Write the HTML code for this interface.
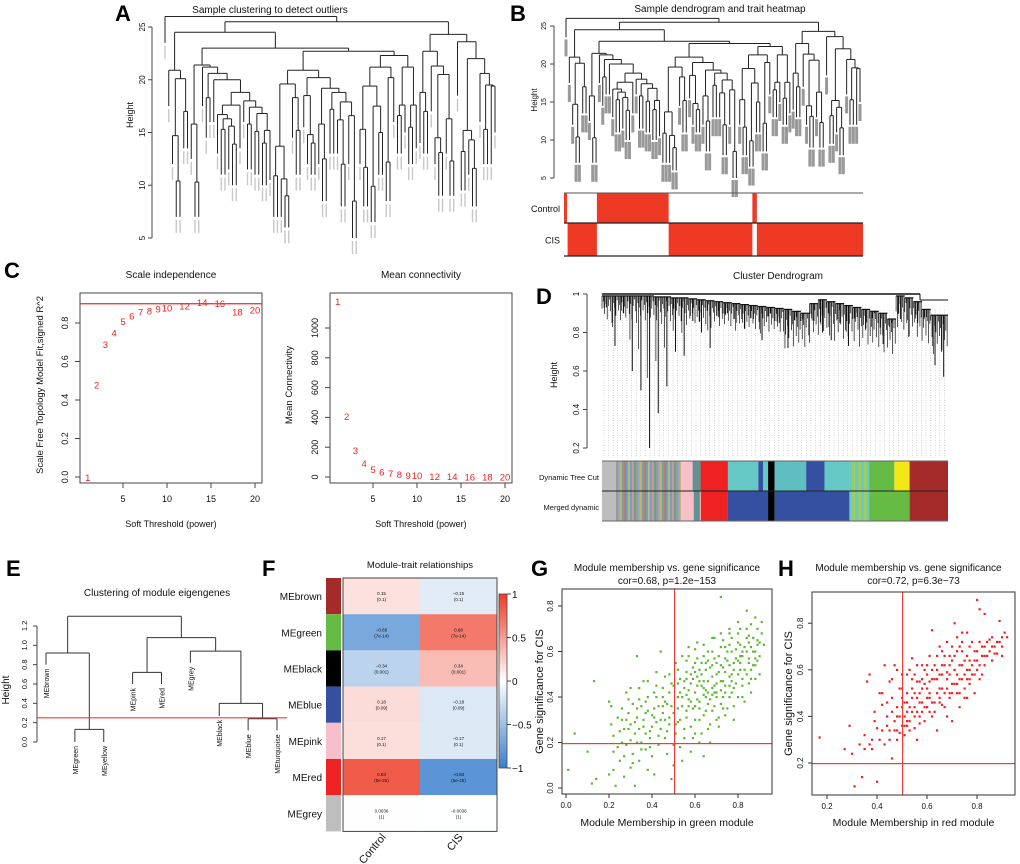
<!DOCTYPE html>
<html><head><meta charset="utf-8">
<style>
html,body{margin:0;padding:0;background:#fff;}
svg{display:block;font-family:"Liberation Sans",Arial,sans-serif;}
</style></head>
<body>
<svg id="fig" width="1020" height="864" viewBox="0 0 1020 864" xmlns="http://www.w3.org/2000/svg">
<rect width="1020" height="864" fill="#fff"/>
<g id="gA"></g>
<g id="gB"></g>
<g id="gC"></g>
<g id="gD"></g>
<g id="gE"></g>
<g id="gF"></g>
<g id="gG"></g>
<g id="gH"></g>
</svg>
<script>
// ---------- data ----------
const powers = [1,2,3,4,5,6,7,8,9,10,12,14,16,18,20];
const sftR2 = [0.0,0.48,0.69,0.75,0.81,0.84,0.86,0.865,0.875,0.88,0.89,0.91,0.905,0.86,0.87];
const meanK = [1180,409,181,94,55,38,27,20,15,12,8,6,5,4,3];
const r2Cut = 0.9;

const modules = ["MEbrown","MEgreen","MEblack","MEblue","MEpink","MEred","MEgrey"];
const moduleColors = ["#a52a2a","#66bb44","#000000","#3550a0","#f7bfcc","#ee2222","#bebebe"];
const traits = ["Control","CIS"];
const corControl = [0.15,-0.68,-0.34,0.18,0.17,0.83,0.0036];
const corCIS = [-0.15,0.68,0.34,-0.18,-0.17,-0.83,-0.0036];
const pText = ["(0.1)","(7e-14)","(0.001)","(0.09)","(0.1)","(5e-25)","(1)"];

const mmGreenA = [0.01,0.04,0.10,0.12,0.13,0.14,0.20,0.20,0.21,0.22,0.23,0.24,0.25,0.26,0.27,0.27,0.28,0.28,0.29,0.30,0.30,0.31,0.31,0.32,0.32,0.33,0.33,0.34,0.34,0.35,0.35,0.36,0.36,0.37,0.37,0.38,0.38,0.39,0.39,0.40,0.40,0.41,0.41,0.42,0.42,0.43,0.43,0.44,0.44,0.45,0.45,0.46,0.46,0.47,0.47,0.48,0.48,0.49,0.49,0.50,0.50,0.51,0.51,0.52,0.52,0.53,0.53,0.54,0.54,0.55,0.55,0.56,0.56,0.57,0.57,0.58,0.58,0.59,0.59,0.60,0.60,0.61,0.61,0.62,0.62,0.63,0.63,0.64,0.64,0.65,0.65,0.66,0.66,0.67,0.67,0.68,0.68,0.69,0.69,0.70,0.70,0.71,0.71,0.72,0.72,0.73,0.73,0.74,0.74,0.75,0.75,0.76,0.76,0.77,0.77,0.78,0.78,0.79,0.79,0.80,0.80,0.81,0.81,0.82,0.82,0.83,0.83,0.84,0.84,0.85,0.85,0.86,0.86,0.87,0.87,0.88,0.88,0.89,0.89,0.90,0.91,0.92,0.58,0.62,0.66,0.70,0.74,0.78,0.64,0.68,0.72,0.76,0.80,0.60,0.56,0.52,0.48,0.44,0.40,0.36,0.32,0.28,0.50,0.54,0.58,0.62,0.66,0.70,0.74,0.82,0.86,0.90,0.46,0.42,0.38,0.34,0.30,0.26,0.22];
const gsGreenA = [0.08,0.24,0.16,0.02,0.47,0.04,0.38,0.06,0.28,0.23,0.01,0.31,0.12,0.35,0.05,0.26,0.19,0.42,0.33,0.09,0.28,0.37,0.15,0.01,0.24,0.58,0.31,0.44,0.12,0.20,0.36,0.27,0.47,0.17,0.33,0.08,0.40,0.25,0.22,0.32,0.14,0.42,0.06,0.29,0.51,0.36,0.19,0.60,0.26,0.44,0.33,0.22,0.49,0.37,0.15,0.28,0.42,0.04,0.46,0.33,0.10,0.55,0.24,0.40,0.29,0.48,0.18,0.36,0.58,0.44,0.22,0.51,0.31,0.39,0.62,0.46,0.27,0.35,0.53,0.42,0.24,0.49,0.64,0.38,0.30,0.55,0.45,0.14,0.41,0.52,0.34,0.47,0.60,0.39,0.28,0.54,0.44,0.66,0.36,0.50,0.42,0.58,0.31,0.47,0.84,0.53,0.40,0.62,0.45,0.35,0.56,0.49,0.68,0.42,0.60,0.52,0.30,0.57,0.46,0.64,0.40,0.55,0.70,0.48,0.60,0.52,0.38,0.66,0.78,0.57,0.46,0.62,0.72,0.54,0.66,0.48,0.60,0.70,0.56,0.64,0.73,0.63,0.50,0.47,0.42,0.46,0.51,0.55,0.44,0.49,0.43,0.54,0.50,0.36,0.41,0.35,0.31,0.30,0.27,0.30,0.29,0.30,0.45,0.40,0.38,0.52,0.56,0.55,0.57,0.58,0.52,0.58,0.38,0.40,0.34,0.26,0.21,0.20,0.16];
const mmGreenB = [0.55,0.57,0.59,0.61,0.63,0.65,0.67,0.69,0.71,0.73,0.75,0.77,0.79,0.81,0.83,0.85,0.87,0.89,0.60,0.64,0.68,0.72,0.76,0.80,0.84,0.88,0.62,0.66,0.70,0.74,0.78,0.82,0.86,0.56,0.60,0.64,0.68,0.72,0.76,0.53,0.49,0.45,0.41,0.37,0.33,0.29,0.25,0.27,0.31,0.35,0.39,0.43,0.47,0.51,0.55,0.59,0.63,0.67,0.71,0.52,0.56,0.60,0.64,0.68,0.72,0.76,0.80,0.84,0.88,0.91,0.90,0.86,0.82,0.78,0.74,0.70,0.66,0.62,0.58,0.54,0.50,0.46,0.42,0.38,0.34,0.30,0.26,0.24,0.22,0.21,0.57,0.61,0.65,0.69,0.73,0.77,0.81,0.85,0.89,0.53,0.57,0.61,0.65,0.69,0.73,0.77,0.81,0.85,0.45,0.41,0.37,0.33,0.29,0.48,0.52,0.56,0.60,0.64,0.68,0.72,0.76,0.80,0.84,0.88];
const gsGreenB = [0.47,0.43,0.48,0.45,0.50,0.43,0.53,0.45,0.51,0.47,0.60,0.50,0.61,0.58,0.62,0.64,0.60,0.65,0.55,0.58,0.60,0.62,0.63,0.68,0.70,0.75,0.35,0.37,0.40,0.42,0.44,0.45,0.48,0.34,0.30,0.32,0.34,0.37,0.40,0.30,0.36,0.40,0.35,0.38,0.35,0.39,0.25,0.14,0.11,0.17,0.18,0.23,0.25,0.28,0.26,0.22,0.24,0.20,0.27,0.52,0.56,0.61,0.63,0.66,0.68,0.70,0.73,0.60,0.54,0.68,0.50,0.42,0.40,0.36,0.32,0.30,0.26,0.20,0.16,0.12,0.19,0.30,0.45,0.47,0.39,0.44,0.30,0.18,0.08,0.36,0.58,0.57,0.55,0.57,0.65,0.66,0.63,0.67,0.63,0.42,0.36,0.39,0.40,0.42,0.35,0.47,0.52,0.55,0.36,0.31,0.24,0.20,0.26,0.50,0.46,0.48,0.51,0.47,0.41,0.54,0.45,0.56,0.50,0.57];

const mmRedA = [0.17,0.27,0.29,0.30,0.31,0.33,0.34,0.35,0.36,0.37,0.38,0.39,0.40,0.40,0.41,0.42,0.43,0.43,0.44,0.45,0.45,0.46,0.46,0.47,0.47,0.48,0.48,0.49,0.49,0.50,0.50,0.51,0.51,0.52,0.52,0.53,0.53,0.54,0.54,0.55,0.55,0.56,0.56,0.57,0.57,0.58,0.58,0.59,0.59,0.60,0.60,0.61,0.61,0.62,0.62,0.63,0.63,0.64,0.64,0.65,0.65,0.66,0.66,0.67,0.67,0.68,0.68,0.69,0.69,0.70,0.70,0.71,0.71,0.72,0.72,0.73,0.73,0.74,0.74,0.75,0.75,0.76,0.76,0.77,0.77,0.78,0.78,0.79,0.79,0.80,0.80,0.81,0.81,0.82,0.82,0.83,0.83,0.84,0.85,0.86,0.86,0.87,0.88,0.89,0.89,0.90,0.90,0.91,0.92,0.44,0.48,0.52,0.56,0.60,0.64,0.68,0.72,0.76,0.80,0.50,0.54,0.58,0.62,0.66,0.70,0.74,0.53,0.57,0.61,0.65,0.69,0.73,0.77,0.46,0.42,0.38,0.51,0.55];
const gsRedA = [0.31,0.26,0.36,0.24,0.10,0.28,0.14,0.26,0.55,0.58,0.30,0.42,0.12,0.35,0.50,0.45,0.62,0.28,0.40,0.55,0.34,0.22,0.48,0.38,0.62,0.44,0.30,0.52,0.40,0.36,0.58,0.46,0.32,0.50,0.42,0.60,0.38,0.48,0.65,0.44,0.35,0.55,0.30,0.50,0.40,0.62,0.46,0.38,0.54,0.58,0.44,0.66,0.50,0.40,0.77,0.56,0.46,0.60,0.34,0.52,0.70,0.45,0.58,0.62,0.50,0.40,0.56,0.66,0.48,0.54,0.38,0.80,0.60,0.50,0.68,0.56,0.44,0.62,0.76,0.52,0.58,0.66,0.48,0.60,0.54,0.72,0.58,0.50,0.64,0.68,0.90,0.62,0.86,0.70,0.58,0.66,0.84,0.72,0.68,0.64,0.74,0.70,0.67,0.81,0.72,0.66,0.70,0.76,0.74,0.36,0.34,0.36,0.42,0.48,0.50,0.52,0.58,0.56,0.60,0.48,0.52,0.52,0.56,0.62,0.64,0.68,0.44,0.46,0.42,0.48,0.58,0.62,0.64,0.42,0.34,0.26,0.40,0.50];
const mmRedB = [0.55,0.57,0.59,0.61,0.63,0.65,0.67,0.69,0.71,0.73,0.75,0.77,0.79,0.81,0.83,0.85,0.87,0.52,0.56,0.60,0.64,0.68,0.72,0.76,0.80,0.84,0.88,0.48,0.50,0.52,0.54,0.58,0.62,0.66,0.70,0.74,0.78,0.82,0.86,0.90,0.45,0.47,0.49,0.51,0.53,0.55,0.57,0.59,0.61,0.63,0.65,0.67,0.69,0.71,0.73,0.75,0.77,0.79,0.81,0.83,0.42,0.44,0.46,0.48,0.50,0.52,0.54,0.56,0.58,0.60,0.62,0.64,0.66,0.68,0.70,0.72,0.74,0.76,0.41,0.39,0.37,0.35];
const gsRedB = [0.58,0.55,0.60,0.55,0.62,0.58,0.66,0.62,0.66,0.70,0.64,0.70,0.68,0.72,0.70,0.73,0.67,0.46,0.48,0.52,0.56,0.59,0.54,0.60,0.64,0.66,0.72,0.40,0.44,0.38,0.42,0.42,0.46,0.52,0.50,0.56,0.62,0.66,0.70,0.74,0.30,0.34,0.33,0.36,0.34,0.40,0.37,0.44,0.48,0.42,0.46,0.44,0.50,0.54,0.50,0.48,0.56,0.58,0.56,0.62,0.50,0.46,0.56,0.60,0.52,0.58,0.56,0.62,0.56,0.62,0.60,0.66,0.68,0.72,0.70,0.74,0.72,0.76,0.30,0.38,0.28,0.32];

// sample dendrogram (leaf = bottom height, node = [mergeHeight, left, right])
const sampleTree = [26, 23.5, [25.5,
  [24.5,
    [20.9, 17.5, [20.1, [14.7, 12, [10.4,7,7]], [17.0,13.5,13.5]]],
    [23.0,
      [21.4, [15.8, 12.5, [10.3,7,7]], [21.2, 17.5, [20.6, [18.3, 14.5, 16], [20.0, 16, [18.8, [17.6, [16.7, 13, [16.3, [15.3,11,11], [15.6,11.5,[13.9,10,10]]]], 13.5], [18.0, 16, [17.4, [15.8, 11.5, 11.5], [16.8, [15.1, 11, 11], [15.2, [14,10,10], 10.5]]]]]]]]],
      [22.7,
        [20.9, [19.6, [13.7, [10.9,7,7], [10.6,7,[9,6,6]]], [18.3, 14.5, [15.2, 11,11]]], [20.2, [18.5, 15.5, [14.8, 12, [14, 11, 11]]], [19.2, [15.8, 12, [12.5,8.5,8.5]], [18.8, [17.2, 13,13], [17.9, [16.2, 13, [12, 8, 8]], [16.6, 12, [8.5,5,5]]]]]]],
        [22.3,
          [21.2, [19.4, [15.3, 12, [11.7, 8,8]], [17.5, [9.9,6.5,6.5], [15.0, 11, 11]]], [20.2, [12.2, 8.5, 8.5], 16]],
          [21.2, [17.6, [16.6, 13,13], 15], [17.6, [15.5, 12,12], 13.5]]]]]],
  [24.3,
    [22.7, [18.8, 14, [17.0, 13,13]], [21.3, 17, [20.5, [14.5, 12, [13.1, 9,9]], [16.3, 13, [12.3, 9, 9]]]]],
    [23.6, 18.5, [22.0, [15.2, [13.2,9.5,9.5], [14.3, 11, [11.6, 8,8]]], [20.6, 16, [19.5, [15.3, 12,12], [19.4, 12, 15]]]]]]]];

const eigenTree = [1.3, [0.92, {h:0.8,n:"MEbrown"}, [0.13, {h:0,n:"MEgreen"}, {h:0,n:"MEyellow"}]],
  [1.08, [0.72, {h:0.6,n:"MEpink"}, {h:0.6,n:"MEred"}], [0.94, {h:0.82,n:"MEgrey"}, [0.4, {h:0.27,n:"MEblack"}, [0.24, {h:0.12,n:"MEblue"}, {h:0.12,n:"MEturquoise"}]]]]];
const eigenCut = 0.25;

const controlRed = [[0,0.01],[0.11,0.35],[0.63,0.645]];
const cisRed = [[0.012,0.11],[0.35,0.63],[0.645,1]];

const dynSegs = [[0,0.04,"#bdbdbd"],[0.04,0.228,"mix"],[0.228,0.262,"#f7bfcc"],[0.262,0.285,"mix2"],[0.285,0.364,"#ee2222"],[0.364,0.452,"#66c8c4"],[0.452,0.466,"#3550a0"],[0.466,0.48,"#66c8c4"],[0.48,0.499,"#000"],[0.499,0.59,"#5fbfc0"],[0.59,0.643,"#3550a0"],[0.643,0.715,"#66c8c4"],[0.715,0.773,"mix3"],[0.773,0.845,"#66bb44"],[0.845,0.889,"#f2e818"],[0.889,1,"#a52a2a"]];
const mergedSegs = [[0,0.04,"#bdbdbd"],[0.04,0.228,"mix"],[0.228,0.265,"#f7bfcc"],[0.265,0.285,"mix2"],[0.285,0.364,"#ee2222"],[0.364,0.48,"#3550a0"],[0.48,0.499,"#000"],[0.499,0.715,"#3550a0"],[0.715,0.773,"mix3"],[0.773,0.889,"#66bb44"],[0.889,1,"#a52a2a"]];

// ---------- helpers ----------
const NS="http://www.w3.org/2000/svg";
function mk(parent, tag, attrs, text){
  const e=document.createElementNS(NS,tag);
  for(const k in attrs) e.setAttribute(k,attrs[k]);
  if(text!==undefined) e.textContent=text;
  parent.appendChild(e); return e;
}
function line(p,x1,y1,x2,y2,st,w){return mk(p,"line",{x1,y1,x2,y2,stroke:st||"#333","stroke-width":w||1});}
function txt(p,x,y,s,size,opts){
  opts=opts||{};
  const a={x,y,"font-size":size,"text-anchor":opts.anchor||"middle",fill:opts.fill||"#111"};
  if(opts.rot!==undefined) a.transform=`rotate(${opts.rot} ${x} ${y})`;
  if(opts.bold) a["font-weight"]="bold";
  const t=mk(p,"text",a,s);
  
  
  return t;
}
function panelLetter(p,x,y,l){
  const t=txt(p,x,y,l,22,{bold:true,anchor:"start",name:"panel-letter-"+l.toLowerCase()});
  t.setAttribute("fill","#000");
}
function leafCount(t){return Array.isArray(t)?leafCount(t[1])+leafCount(t[2]):1;}
function drawTree(g,tree,x0,x1,yf,leafFn,stroke,w){
  const n=leafCount(tree); const sp=(x1-x0)/(n-1); let idx=0;
  function rec(t){
    if(!Array.isArray(t)){const x=x0+sp*(idx++);const h=typeof t==="object"?t.h:t;return {x,h,leaf:t};}
    const a=rec(t[1]), b=rec(t[2]); const yh=yf(t[0]);
    const l1=line(g,a.x,yh,b.x,yh,stroke,w);
    
    
    [a,b].forEach(c=>{
      const l=line(g,c.x,yh,c.x,yf(c.h),stroke,w);
      
      
      if(c.leaf!==undefined && leafFn) leafFn(c.x,yf(c.h),c.leaf);
    });
    return {x:(a.x+b.x)/2,h:t[0]};
  }
  rec(tree);
}
function heightAxis(g,x,yf,ticks,fs,labelX){
  line(g,x,yf(ticks[ticks.length-1]),x,yf(ticks[0]),"#444",1);
  ticks.forEach(v=>{line(g,x-4,yf(v),x,yf(v),"#444",1);txt(g,labelX,yf(v),String(v),fs,{rot:-90,name:"y-tick-label"});});
}

// ---------- Panel A ----------
(function(){
  const g=document.getElementById("gA");
  panelLetter(g,115,21,"A");
  txt(g,270,13,"Sample clustering to detect outliers",10,{name:"panel-a-title"});
  const yf=v=>238-(v-5)*10.55;
  heightAxis(g,152,yf,[5,10,15,20,25],8,145);
  txt(g,133,115,"Height",9,{rot:-90,name:"y-axis-title"});
  drawTree(g,sampleTree,165,495,yf,(x,y)=>{
    const r=mk(g,"rect",{x:x-0.7,y:y+3,width:1.4,height:13,fill:"#c8c8c8"});
    
    
  },"#222",1);
})();

// ---------- Panel B ----------
(function(){
  const g=document.getElementById("gB");
  panelLetter(g,510,21,"B");
  txt(g,720,12,"Sample dendrogram and trait heatmap",10,{name:"panel-b-title"});
  const yf=v=>178-(v-5)*7.6;
  heightAxis(g,554,yf,[5,10,15,20,25],7,546);
  txt(g,537,100,"Height",8,{rot:-90,name:"y-axis-title"});
  drawTree(g,sampleTree,566,860,yf,(x,y)=>{
    const r=mk(g,"rect",{x:x-1.5,y:y+2,width:3,height:17,fill:"#999"});
    
    
  },"#222",1);
  const X0=564,W=299;
  const rows=[["Control",193,223,controlRed],["CIS",223,256,cisRed]];
  rows.forEach(([nm,y0,y1,segs])=>{
    segs.forEach(([a,b])=>{
      const r=mk(g,"rect",{x:X0+a*W,y:y0,width:(b-a)*W,height:y1-y0,fill:"#ee3a25"});
      
      
    });
    txt(g,560,(y0+y1)/2+4,nm,9,{anchor:"end",name:"trait-label"});
  });
  line(g,X0,193,X0+W,193,"#555",1);line(g,X0,223,X0+W,223,"#222",1.2);line(g,X0,256,X0+W,256,"#222",1.2);
})();

// ---------- Panel C ----------
(function(){
  const g=document.getElementById("gC");
  panelLetter(g,4,278,"C");
  function plot(bx,title,ytitle,vals,yf,yticks,ytitleX,fmt){
    txt(g,bx+91,278,title,10,{name:"plot-title"});
    mk(g,"rect",{x:bx,y:293,width:182,height:190,fill:"none",stroke:"#444","stroke-width":1});
    const xf=p=>bx+43+(p-5)*8.8;
    [5,10,15,20].forEach(v=>{line(g,xf(v),483,xf(v),488,"#444");txt(g,xf(v),502,String(v),9,{name:"x-tick-label"});});
    yticks.forEach(v=>{line(g,bx-5,yf(v),bx,yf(v),"#444");txt(g,bx-12,yf(v),fmt(v),9,{rot:-90,name:"y-tick-label"});});
    txt(g,bx+91,527,"Soft Threshold (power)",9,{name:"x-axis-title"});
    txt(g,ytitleX,385,ytitle,9.5,{rot:-90,name:"y-axis-title"});
    powers.forEach((p,i)=>{
      txt(g,xf(p),yf(vals[i])+4,String(p),9.5,{fill:"#ee2222",name:"power-point"});
    });
  }
  const yL=v=>477-v*192.5;
  plot(80,"Scale independence","Scale Free Topology Model Fit,signed R^2",sftR2,yL,[0,0.2,0.4,0.6,0.8],43,v=>v.toFixed(1));
  const cl=mk(g,"rect",{x:80,y:yL(r2Cut)-0.6,width:182,height:1.2,fill:"#ee2222"});
  
  
  const yR=v=>477-v*0.149;
  plot(330,"Mean connectivity","Mean Connectivity",meanK,yR,[0,200,400,600,800,1000],292,v=>String(v));
})();

// ---------- Panel D ----------
(function(){
  const g=document.getElementById("gD");
  panelLetter(g,536,304,"D");
  txt(g,778,279,"Cluster Dendrogram",10,{name:"panel-d-title"});
  const yf=v=>294+(1-v)*192.5;
  heightAxis(g,587,yf,[0.2,0.4,0.6,0.8,1.0],8,579);
  txt(g,557,375,"Height",9,{rot:-90,name:"y-axis-title"});
  for(let x=604;x<948;x+=4.6){line(g,x,310,x,458,"#aaa",0.5).setAttribute("stroke-dasharray","1,1.5");}
  const depthProfile=[0.93,0.73,0.9,0.6,0.5,0.2,0.38,0.52,0.7,0.68,0.86,0.8,0.72,0.88,0.9,0.85,0.82,0.87,0.76,0.9,0.85,0.72,0.88,0.9,0.86,0.8,0.76,0.85,0.73,0.88,0.82,0.9,0.74,0.85,0.87,0.78,0.85,0.88,0.63,0.57];
  const topProfile=[0.99,0.99,0.99,0.99,0.99,0.99,0.985,0.985,0.98,0.98,0.975,0.97,0.965,0.96,0.955,0.95,0.945,0.94,0.935,0.93,0.925,0.92,0.91,0.9,0.95,0.97,0.96,0.95,0.94,0.93,0.92,0.91,0.9,0.87,0.99,0.98,0.96,0.92,0.89,0.89];
  const hang=[14,6,20,9,26,11,4,17,30,8,13,22,5,16,10,27,7,19,12,24];
  const n=depthProfile.length, X0=602, W=346;
  let k=0;
  for(let i=0;i<n;i++){
    const xs=X0+i*W/n, xe=X0+(i+1)*W/n;
    const top=yf(topProfile[i]);
    line(g,xs,top,xe,top,"#111",1.2);
    for(let x=xs;x<xe;x+=1.3){
      line(g,x,top,x,top+hang[k%hang.length]*(i>20?1.3:0.9),"#111",0.7);
      k++;
    }
    const mid=(xs+xe)/2;
    line(g,mid,top,mid,yf(depthProfile[i]),"#111",1);
    line(g,xs+2,top,xs+2,(top+yf(depthProfile[i]))/2+6,"#111",0.7);
  }
  line(g,602,294,920,294,"#111",1.5);
  line(g,920,294,920,300,"#111",1);
  line(g,920,300,948,300,"#111",1);
  const mixA=["#9a9a9a","#8fa8c8","#c8b070","#7aa098","#b87a7a","#6a9fb5","#a8c080","#9090c0","#c0a0a0","#70a080"];
  function bar(segs,y0,h,nm){
    segs.forEach(([a,b,c])=>{
      if(c.startsWith("mix")){
        const steps=Math.max(1,Math.round((b-a)*W/2));
        for(let q=0;q<steps;q++){
          const r=mk(g,"rect",{x:X0+a*W+q*2,y:y0,width:2.2,height:h,fill:c==="mix3"?(q%3?"#9ccc66":"#66c8c4"):c==="mix2"?"#5f8f8f":mixA[q%mixA.length]});
          
          
        }
      } else {
        const r=mk(g,"rect",{x:X0+a*W,y:y0,width:(b-a)*W,height:h,fill:c});
        
        
      }
    });
  }
  bar(dynSegs,461,30,"dynamic-tree-cut");
  bar(mergedSegs,491,30,"merged-dynamic");
  line(g,X0,461,X0+W,461,"#666",1);line(g,X0,491,X0+W,491,"#222",1);line(g,X0,521,X0+W,521,"#666",1);
  txt(g,599,480,"Dynamic Tree Cut",7.5,{anchor:"end",name:"color-bar-label"});
  txt(g,599,510,"Merged dynamic",7.5,{anchor:"end",name:"color-bar-label"});
})();

// ---------- Panel E ----------
(function(){
  const g=document.getElementById("gE");
  panelLetter(g,6,576,"E");
  txt(g,157,596,"Clustering of module eigengenes",10,{name:"panel-e-title"});
  const yf=v=>742-v*96.7;
  const ticks=[0,0.2,0.4,0.6,0.8,1.0,1.2];
  line(g,37,yf(1.2),37,yf(0),"#444",1);
  ticks.forEach(v=>{line(g,33,yf(v),37,yf(v),"#444",1);txt(g,27,yf(v),v.toFixed(1),7.5,{rot:-90,name:"y-tick-label"});});
  txt(g,9,690,"Height",10,{rot:-90,name:"y-axis-title"});
  drawTree(g,eigenTree,46,277,yf,(x,y,leaf)=>{
    txt(g,x+3,y+4,leaf.n,7,{rot:-90,anchor:"end",name:"eigengene-label"});
  },"#333",1);
  const cut=mk(g,"rect",{x:37,y:yf(eigenCut)-0.5,width:250,height:1,fill:"#ee2222"});
  
  
})();

// ---------- Panel F ----------
(function(){
  const g=document.getElementById("gF");
  panelLetter(g,262,576,"F");
  txt(g,420,568,"Module-trait relationships",9.5,{name:"panel-f-title"});
  function col(v){
    const t=Math.min(1,Math.abs(v));
    const end=v>=0?[238,58,37]:[58,127,204];
    const c=end.map(e=>Math.round(255+(e-255)*t));
    return `rgb(${c[0]},${c[1]},${c[2]})`;
  }
  const y0=578,rh=36.2,x0=343,cw=77;
  modules.forEach((m,i)=>{
    const y=y0+i*rh;
    const sw=mk(g,"rect",{x:326,y,width:15,height:rh,fill:moduleColors[i]});
    
    
    txt(g,322,y+rh/2+4,m,10,{anchor:"end",name:"module-label"});
    [corControl[i],corCIS[i]].forEach((v,j)=>{
      const c=mk(g,"rect",{x:x0+j*cw,y,width:cw,height:rh,fill:col(v)});
      
      
      txt(g,x0+j*cw+cw/2,y+rh/2-1,String(v).replace("-","\u2212"),4.5,{name:"cell-value"});
      txt(g,x0+j*cw+cw/2,y+rh/2+5,pText[i],4.5,{name:"cell-p-value"});
    });
  });
  mk(g,"rect",{x:x0,y:y0,width:2*cw,height:7*rh,fill:"none",stroke:"#444","stroke-width":1});
  traits.forEach((t,j)=>txt(g,x0+j*cw+cw/2+5,y0+7*rh+6,t,11,{rot:-50,anchor:"end",name:"trait-axis-label"}));
  const defs=mk(g,"defs",{});
  const lg=mk(defs,"linearGradient",{id:"cbar",x1:0,y1:0,x2:0,y2:1});
  mk(lg,"stop",{offset:"0","stop-color":"#ee3a25"});mk(lg,"stop",{offset:"0.5","stop-color":"#ffffff"});mk(lg,"stop",{offset:"1","stop-color":"#3a7fcc"});
  const cb=mk(g,"rect",{x:499,y:594,width:8,height:174,fill:"url(#cbar)",stroke:"#444","stroke-width":0.8});
  
  
  [1,0.5,0,-0.5,-1].forEach(v=>{const y=681-v*87;line(g,507,y,511,y,"#444");txt(g,512,y+4,String(v).replace("-","\u2212"),10,{anchor:"start",name:"color-scale-tick"});});
})();

// ---------- Panels G & H ----------
function scatter(gid,letter,lx,box,xf,yf,xt,yt,xs,ys,color,title2,xlabel,ytitleX,ylabX,vline,hline){
  const g=document.getElementById(gid);
  panelLetter(g,lx,576,letter);
  const cx=(box[0]+box[2])/2;
  txt(g,cx+(letter==="H"?-5:0),571,"Module membership vs. gene significance",10,{name:"scatter-title"});
  txt(g,cx,584,title2,10,{name:"scatter-subtitle"});
  xs.forEach((v,i)=>{
    const r=mk(g,"rect",{x:xf(v)-1,y:yf(ys[i])-1,width:2.2,height:2.2,fill:color});
    
    
  });
  const vl=mk(g,"rect",{x:Math.round(xf(vline)),y:box[1],width:1.2,height:box[3]-box[1],fill:"#ee3b3b"});
  
  
  const hl=mk(g,"rect",{x:box[0],y:Math.round(yf(hline)),width:box[2]-box[0],height:1.2,fill:"#ee3b3b"});
  
  
  mk(g,"rect",{x:box[0],y:box[1],width:box[2]-box[0],height:box[3]-box[1],fill:"none",stroke:"#333","stroke-width":1});
  xt.forEach(v=>{line(g,xf(v),box[3],xf(v),box[3]+4,"#333");txt(g,xf(v),box[3]+14,v.toFixed(1),8,{name:"x-tick-label"});});
  yt.forEach(v=>{line(g,box[0]-4,yf(v),box[0],yf(v),"#333");txt(g,ylabX,yf(v),v.toFixed(1),8,{rot:-90,name:"y-tick-label"});});
  txt(g,cx,826,xlabel,10.5,{name:"x-axis-title"});
  txt(g,ytitleX,(box[1]+box[3])/2,"Gene significance for CIS",11,{rot:-90,name:"y-axis-title"});
}
scatter("gG","G",531,[562,589,772,794],v=>566+v*215,v=>788-v*227.5,[0,0.2,0.4,0.6,0.8],[0,0.2,0.4,0.6,0.8],mmGreenA.concat(mmGreenB),gsGreenA.concat(gsGreenB),"#5cb82e","cor=0.68, p=1.2e\u2212153","Module Membership in green module",543,553,0.5,0.2);
scatter("gH","H",778,[812,592,1015,795],v=>827+(v-0.2)*250,v=>763-(v-0.2)*233,[0.2,0.4,0.6,0.8],[0.2,0.4,0.6,0.8],mmRedA.concat(mmRedB),gsRedA.concat(gsRedB),"#ee2020","cor=0.72, p=6.3e\u221273","Module Membership in red module",792,803,0.5,0.2);
</script>
</body></html>
